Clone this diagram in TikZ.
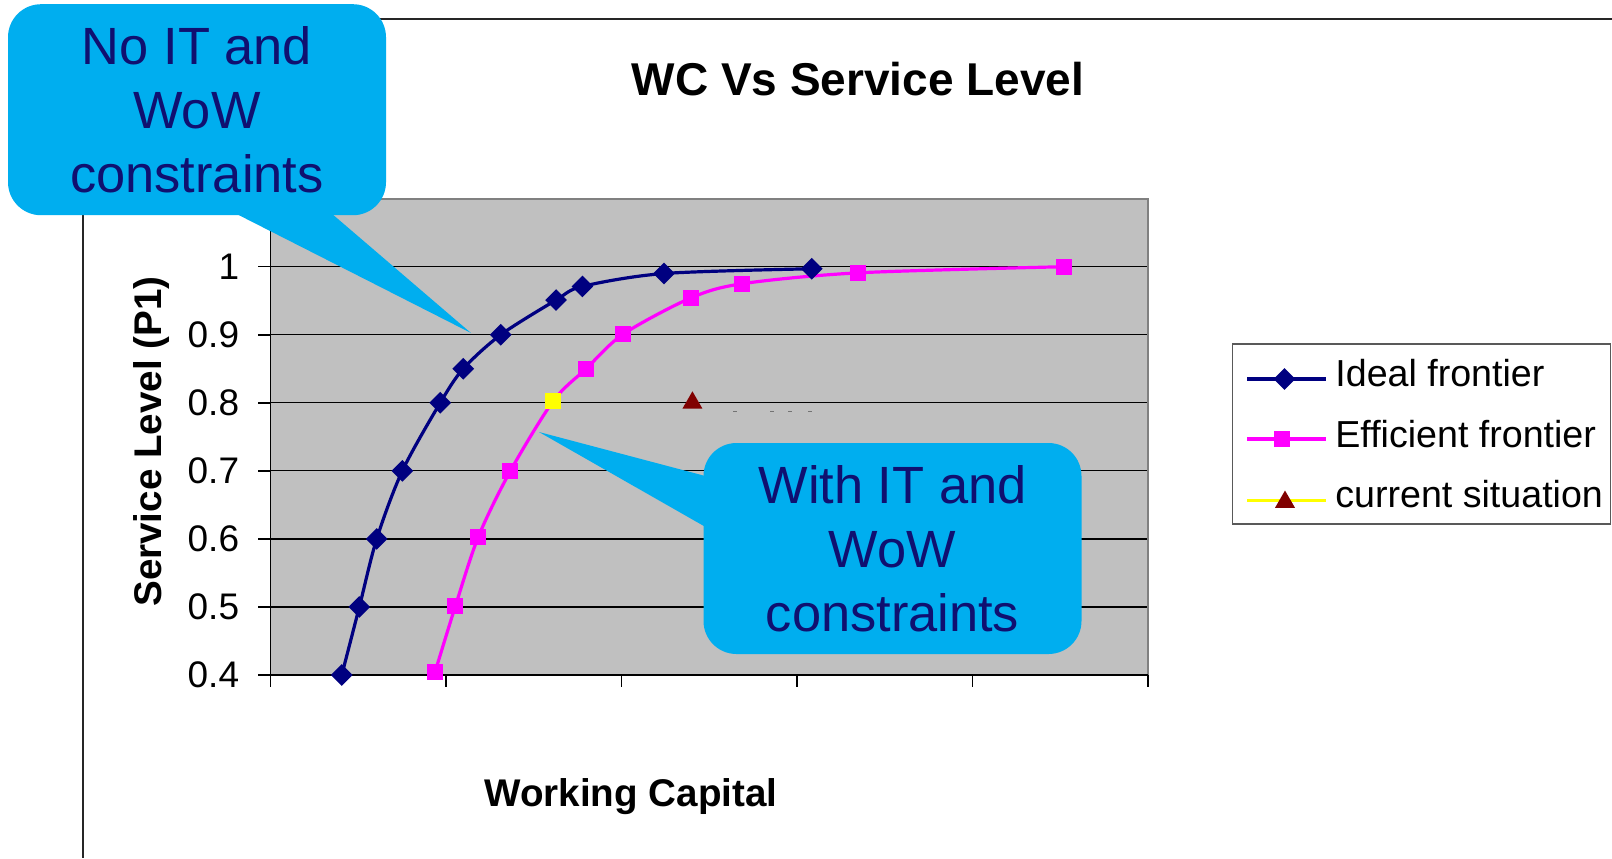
\documentclass[tikz,border=0pt]{standalone}
\usepackage{fontspec}
\setmainfont{Liberation Sans}
\usetikzlibrary{shapes.geometric}

\definecolor{calloutblue}{RGB}{0,174,239}
\definecolor{callouttext}{RGB}{16,16,112}
\definecolor{idealblue}{RGB}{0,0,128}
\definecolor{effmagenta}{RGB}{255,0,255}
\definecolor{curyellow}{RGB}{255,255,0}
\definecolor{plotgray}{RGB}{192,192,192}
\definecolor{framegray}{RGB}{128,128,128}
\definecolor{darkred}{RGB}{128,0,0}

\begin{document}
\begin{tikzpicture}[x=0.5pt,y=-0.5pt,
  % texts
  charttitle/.style={font=\fontsize{23}{27}\selectfont\bfseries, inner sep=0pt, anchor=base},
  axistitle/.style={font=\fontsize{19.3}{23}\selectfont\bfseries, inner sep=0pt, anchor=base},
  ticklabel/.style={font=\fontsize{18.5}{22}\selectfont, inner sep=0pt, anchor=east},
  legtext/.style={font=\fontsize{18.8}{22}\selectfont, inner sep=0pt, anchor=base west},
  legbox/.style={draw=black!65, line width=0.75pt, minimum width=188.9pt, minimum height=90pt, inner sep=0pt},
  % callouts = rounded box + wedge pointing into the chart
  callout/.style={fill=calloutblue, rounded corners=16.5pt, minimum width=189pt,
                  minimum height=105.5pt, inner sep=0pt, align=center, text=callouttext,
                  font=\fontsize{26.2}{32}\selectfont},
  wedge/.style={fill=calloutblue},
  % series
  ideal/.style={idealblue, line width=1.6pt},
  efficient/.style={effmagenta, line width=1.6pt},
  current/.style={curyellow, line width=1.6pt},
  idealmk/.style={diamond, fill=idealblue, inner sep=0pt, minimum size=11pt},
  effmk/.style={rectangle, fill=effmagenta, inner sep=0pt, minimum size=8pt},
  curmk/.style={regular polygon, regular polygon sides=3, fill=darkred, inner sep=0pt, minimum size=11.5pt},
  gridline/.style={black, line width=0.6pt},
  ]
  \useasboundingbox (0,0) rectangle (1612,858);
  \fill[white] (0,0) rectangle (1612,858);
  % ---- chart frame (cut off at right and bottom) ------------------------------
  \draw[black!85, line width=1pt] (1612,19) -- (83,19) -- (83,858);
  % ---- plot area, data units: x = tick index, y = service level ---------------
  \begin{scope}[xshift=135.35pt, yshift=-473.6pt, x=87.75pt, y=340.25pt]
    \fill[plotgray] (0,0.4) rectangle (5,1.1);
    \foreach \v in {0.5,0.6,0.7,0.8,0.9,1.0}
      \draw[gridline] (0,\v) -- (5,\v);
    \draw[framegray, line width=1pt] (0,1.1) -- (5,1.1) -- (5,0.4);
    \draw[black, line width=0.75pt] (0,1.1) -- (0,0.4) -- (5,0.4);
    \foreach \v [count=\k] in {0.4,0.5,0.6,0.7,0.8,0.9,1} {
      \draw[black, line width=0.75pt] (0,\v) -- ++(-6.3pt,0);
      \node[ticklabel] (yl\k) at ([xshift=-15.6pt]0,\v) {\v};
    }
    \foreach \t in {0,...,5}
      \draw[black, line width=0.75pt] (\t,0.4) -- ++(0,-6pt);
    % ideal frontier
    \foreach \x/\y [count=\k] in {0.405/0.4, 0.505/0.5, 0.604/0.6, 0.75/0.7, 0.966/0.8,
        1.097/0.85, 1.311/0.9, 1.626/0.951, 1.776/0.971, 2.241/0.99, 3.083/0.997}
      \coordinate (i\k) at (\x,\y);
    \draw[ideal] plot[smooth, tension=0.5] coordinates
      {(i1) (i2) (i3) (i4) (i5) (i6) (i7) (i8) (i9) (i10) (i11)};
    % efficient frontier
    \foreach \x/\y [count=\k] in {0.936/0.404, 1.052/0.501, 1.183/0.603, 1.366/0.7, 1.611/0.803,
        1.797/0.85, 2.009/0.901, 2.393/0.954, 2.687/0.975, 3.348/0.991, 4.522/1.0}
      \coordinate (e\k) at (\x,\y);
    \draw[efficient] plot[smooth, tension=0.5] coordinates
      {(e1) (e2) (e3) (e4) (e5) (e6) (e7) (e8) (e9) (e10) (e11)};
    \foreach \k in {1,...,11}
      \node[idealmk] (im\k) at (i\k) {};
    \foreach \k in {1,2,3,4,6,7,8,9,10,11}
      \node[effmk] (em\k) at (e\k) {};
    \node[effmk, fill=curyellow] (em5) at (e5) {};
    % current situation
    \node[curmk] (cur) at (2.403,0.8) {};
  \end{scope}
  \foreach \x in {735,772,790,810}
    \draw[black!55, line width=0.5pt] (\x-2,411) -- (\x+2,411);
  % ---- titles -----------------------------------------------------------------
  \node[charttitle] (title) at (858,95.5) {WC Vs Service Level};
  \node[axistitle] (xtitle) at (631,806.7) {Working Capital};
  \node[axistitle, rotate=90] (ytitle) at (161.5,441.5) {Service Level (P1)};
  % ---- legend -----------------------------------------------------------------
  \node[legbox] (legend) at (1421.6,434) {};
  \draw[ideal] (1247,379) -- (1326,379);
  \node[idealmk] (lm1) at (1284.5,379) {};
  \node[legtext] (leg1) at (1335,386.7) {Ideal frontier};
  \draw[efficient] (1247,439) -- (1326,439);
  \node[effmk] (lm2) at (1282,439) {};
  \node[legtext] (leg2) at (1335,447) {Efficient frontier};
  \draw[current] (1247,500.5) -- (1326,500.5);
  \node[curmk] (lm3) at (1285,502) {};
  \node[legtext] (leg3) at (1335,507) {current situation};
  % ---- callouts ---------------------------------------------------------------
  \node[callout] (noit) at (197,109.7) {No IT and\\WoW\\constraints};
  \coordinate (noittip) at (471,333);
  \fill[wedge] ([xshift=15.5pt,yshift=3pt]noit.south) -- (noittip)
    -- ([xshift=65pt,yshift=3pt]noit.south) -- cycle;
  \node[callout] (withit) at (892.5,548.5) {With IT and\\WoW\\constraints};
  \coordinate (withittip) at (539,432);
  \fill[wedge] ([xshift=3pt,yshift=35.75pt]withit.west) -- (withittip)
    -- ([xshift=3pt,yshift=9.75pt]withit.west) -- cycle;
\end{tikzpicture}
\end{document}
